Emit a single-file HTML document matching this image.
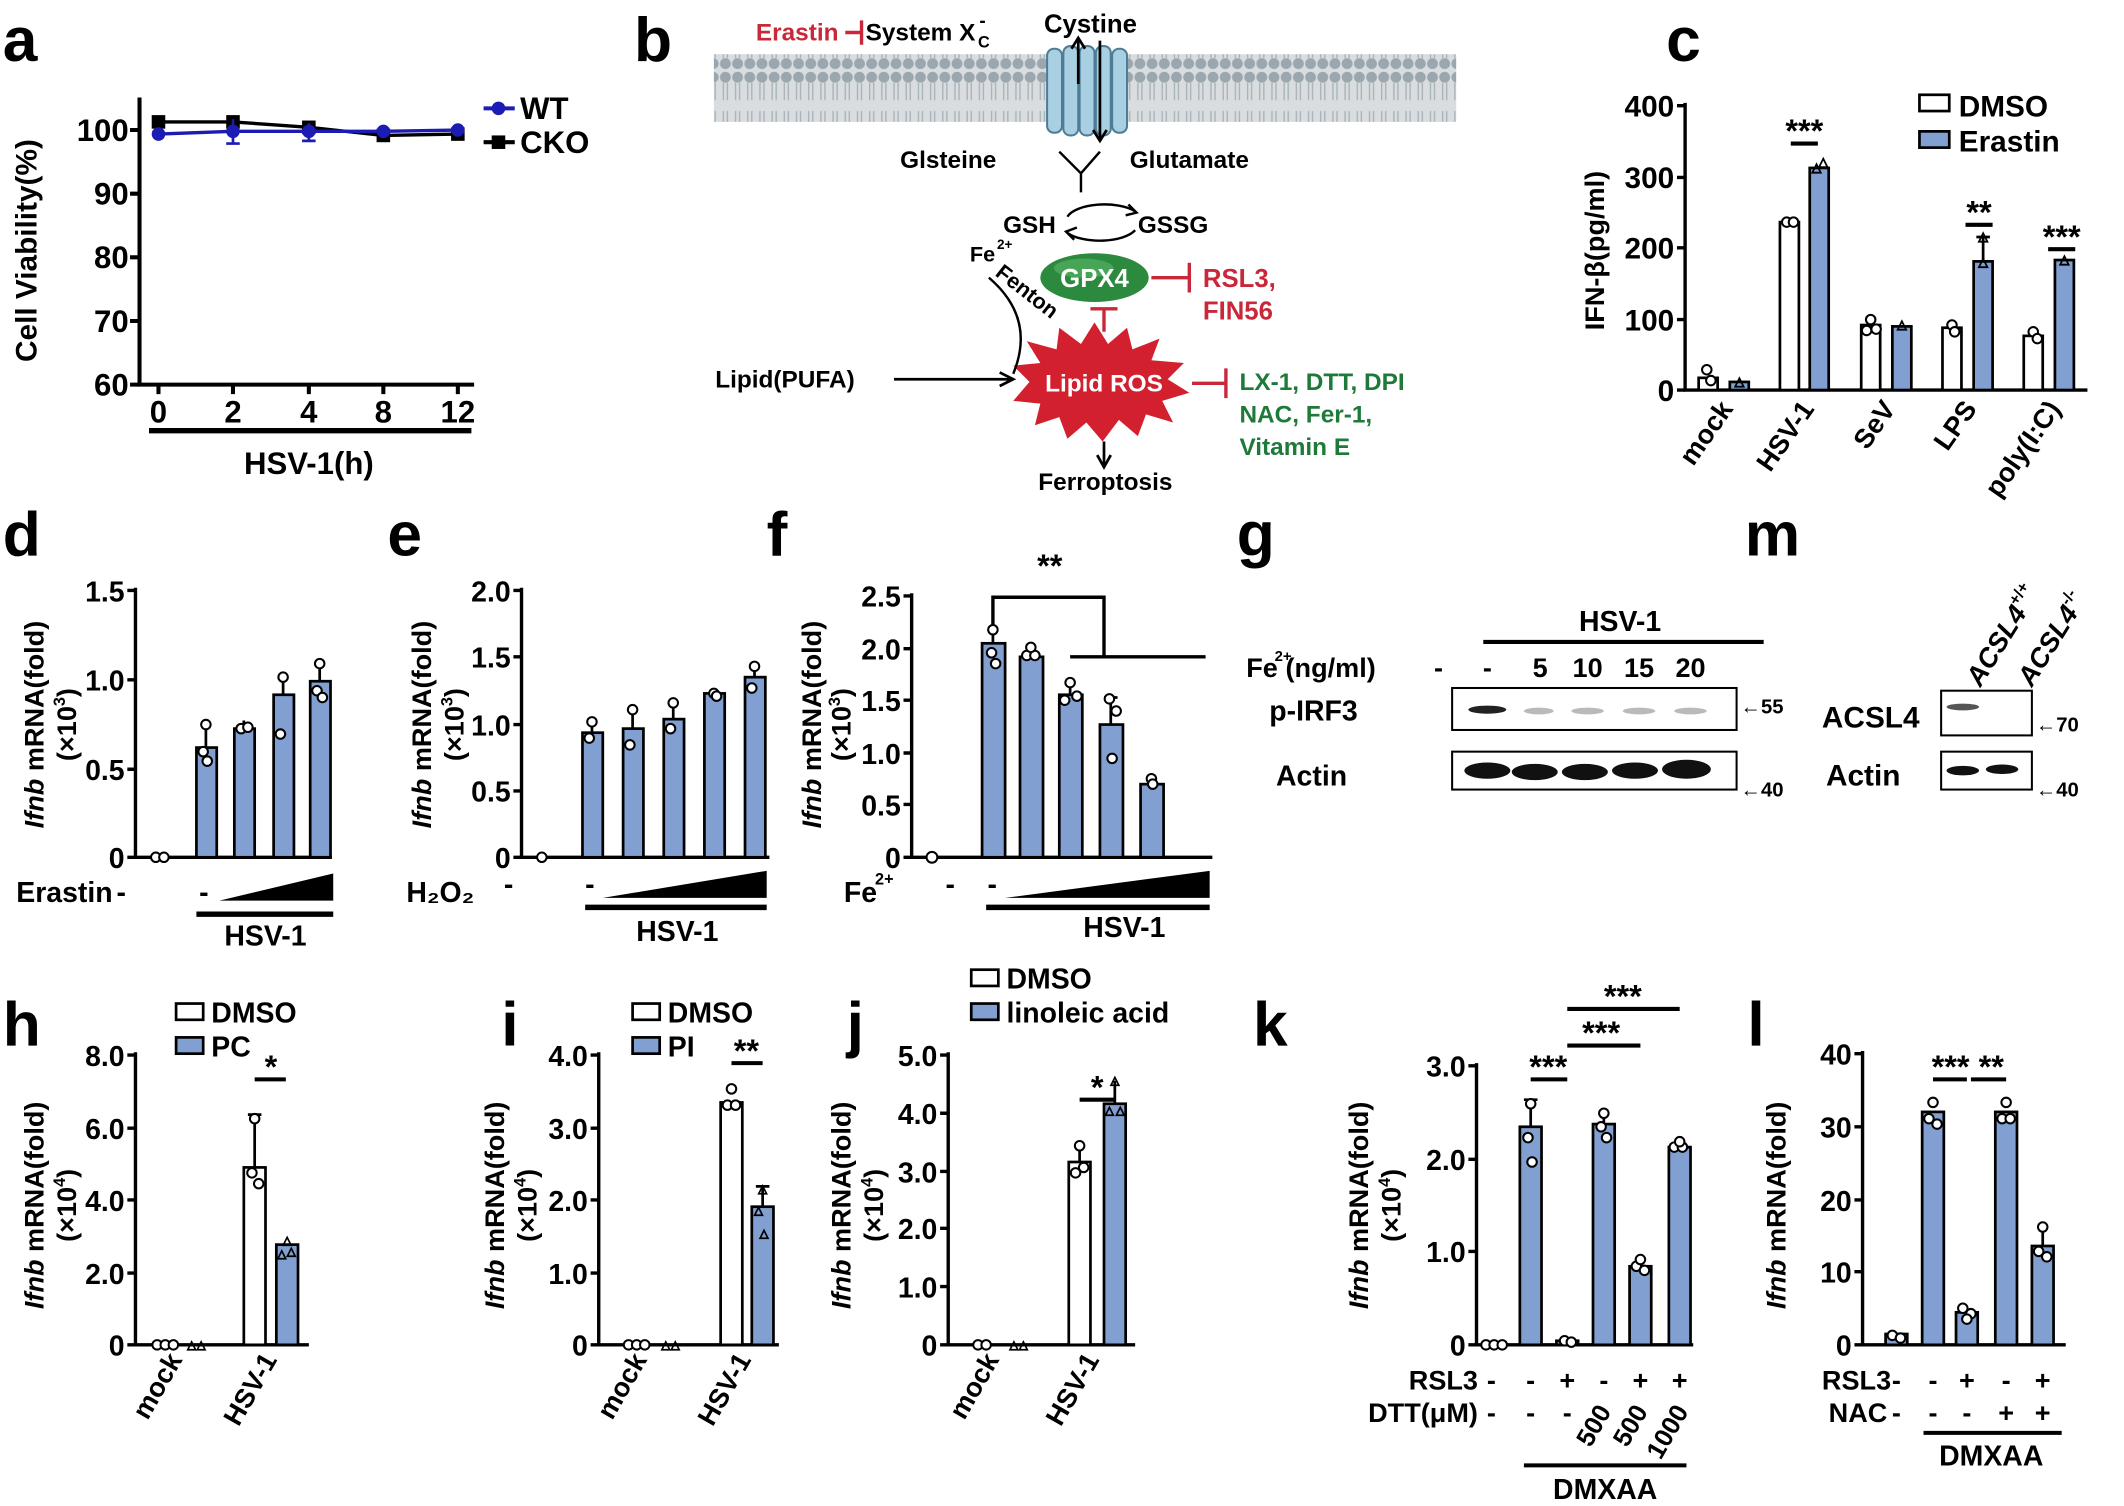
<!DOCTYPE html>
<html><head><meta charset="utf-8"><style>
html,body{margin:0;padding:0;background:#fff}
svg{display:block}
text{font-family:"Liberation Sans",Arial,sans-serif;font-weight:bold}
</style></head><body>
<svg width="2124" height="1506" viewBox="0 0 1568 1112" preserveAspectRatio="none" xmlns="http://www.w3.org/2000/svg">
<defs>
<pattern id="mem" x="0" y="0" width="9" height="52" patternUnits="userSpaceOnUse">
<rect width="9" height="52" fill="#d9dde0"/>
<circle cx="4.5" cy="5" r="4" fill="#9aa7ae"/>
<circle cx="4.5" cy="47" r="4" fill="#9aa7ae"/>
<path d="M3 9 L3 22 M6 9 L6 22 M3 30 L3 43 M6 30 L6 43" stroke="#a9b3b8" stroke-width="1"/>
</pattern>
</defs>

<!-- ===== Panel a ===== -->
<text x="2" y="45" font-size="46">a</text>
<g stroke="#000" stroke-width="3" fill="none">
<path d="M103 72 V284 H350"/>
<path d="M96 96 H103 M96 143 H103 M96 190 H103 M96 237 H103 M96 284 H103"/>
<path d="M117 284 V291 M172 284 V291 M228 284 V291 M283 284 V291 M338 284 V291"/>
<path d="M110 318 H348" stroke-width="4"/>
</g>
<g font-size="23" text-anchor="end">
<text x="95" y="104">100</text><text x="95" y="151">90</text><text x="95" y="198">80</text><text x="95" y="245">70</text><text x="95" y="292">60</text>
</g>
<g font-size="23" text-anchor="middle">
<text x="117" y="312">0</text><text x="172" y="312">2</text><text x="228" y="312">4</text><text x="283" y="312">8</text><text x="338" y="312">12</text>
<text x="228" y="350">HSV-1(h)</text>
</g>
<text transform="translate(27,185) rotate(-90)" font-size="22" text-anchor="middle">Cell Viability(%)</text>
<polyline points="117,90 172,90 228,94 283,100 338,99" fill="none" stroke="#000" stroke-width="2.5"/>
<g fill="#000"><rect x="112" y="85" width="10" height="10"/><rect x="167" y="85" width="10" height="10"/><rect x="223" y="89" width="10" height="10"/><rect x="278" y="95" width="10" height="10"/><rect x="333" y="94" width="10" height="10"/></g>
<polyline points="117,99 172,97 228,97 283,97 338,96" fill="none" stroke="#1c1cb4" stroke-width="2.5"/>
<g stroke="#1c1cb4" stroke-width="2"><path d="M172 88 V106 M167 106 H177 M228 91 V104 M223 104 H233"/></g>
<g fill="#1c1cb4"><circle cx="117" cy="99" r="5"/><circle cx="172" cy="97" r="5"/><circle cx="228" cy="97" r="5"/><circle cx="283" cy="97" r="5"/><circle cx="338" cy="96" r="5"/></g>
<path d="M357 80 H380" stroke="#1c1cb4" stroke-width="3"/><circle cx="368" cy="80" r="5" fill="#1c1cb4"/>
<text x="384" y="88" font-size="23">WT</text>
<path d="M357 105 H380" stroke="#000" stroke-width="3"/><rect x="363" y="100" width="10" height="10"/>
<text x="384" y="113" font-size="23">CKO</text>

<!-- ===== Panel b ===== -->
<text x="468" y="45" font-size="46">b</text>
<rect x="527" y="40" width="548" height="50" fill="url(#mem)"/>
<g fill="#a9cfe3" stroke="#4f7c95" stroke-width="1.5">
<rect x="773" y="36" width="11" height="62" rx="5"/><rect x="785" y="34" width="11" height="66" rx="5"/>
<rect x="797" y="34" width="11" height="66" rx="5"/><rect x="809" y="34" width="11" height="66" rx="5"/><rect x="821" y="36" width="11" height="62" rx="5"/>
</g>
<text x="805" y="24" font-size="19" text-anchor="middle">Cystine</text>
<g stroke="#000" stroke-width="2" fill="none">
<path d="M796 30 V62"/><path d="M791 36 L796 28 L801 36"/>
<path d="M812 30 V102"/><path d="M807 96 L812 104 L817 96"/>
</g>
<text x="558" y="30" font-size="18" fill="#c8283a" font-weight="bold">Erastin</text>
<path d="M624 24 H636 M636 15 V33" stroke="#c8283a" stroke-width="2.5"/>
<text x="639" y="30" font-size="18">System X</text>
<text x="722" y="35" font-size="12">C</text><text x="723" y="20" font-size="14">-</text>
<text x="700" y="124" font-size="18" text-anchor="middle">Glsteine</text>
<text x="878" y="124" font-size="18" text-anchor="middle">Glutamate</text>
<path d="M782 112 L798 128 L812 112 M798 128 V142" stroke="#000" stroke-width="1.8" fill="none"/>
<text x="760" y="172" font-size="18" text-anchor="middle">GSH</text>
<text x="866" y="172" font-size="18" text-anchor="middle">GSSG</text>
<path d="M788 160 A28 12 0 0 1 838 156" stroke="#000" stroke-width="1.8" fill="none"/>
<path d="M838 170 A28 12 0 0 1 788 172" stroke="#000" stroke-width="1.8" fill="none"/>
<path d="M833 151 L839 157 L831 159 M793 177 L787 171 L795 168" stroke="#000" stroke-width="1.8" fill="none"/>
<ellipse cx="808" cy="205" rx="40" ry="18" fill="#2b8a3e"/>
<ellipse cx="800" cy="198" rx="22" ry="7" fill="#5cb86b" opacity="0.6"/>
<text x="808" y="212" font-size="19" fill="#fff" text-anchor="middle">GPX4</text>
<path d="M850 205 H878 M878 194 V216" stroke="#c8283a" stroke-width="2.5"/>
<text x="888" y="212" font-size="19" fill="#c8283a">RSL3,</text>
<text x="888" y="236" font-size="19" fill="#c8283a">FIN56</text>
<path d="M815 245 V228 M805 228 H825" stroke="#c8283a" stroke-width="2.5"/>
<polygon fill="#d2202f" points="760,282 748,270 768,268 758,252 780,258 782,242 798,254 808,238 818,254 832,242 836,258 856,250 850,266 874,268 862,280 878,290 858,296 866,312 846,306 840,322 826,310 814,326 802,312 788,324 782,308 764,314 768,298 748,296"/>
<text x="815" y="289" font-size="18" fill="#fff" text-anchor="middle">Lipid ROS</text>
<text x="716" y="193" font-size="16">Fe</text><text x="736" y="184" font-size="10">2+</text>
<text transform="translate(734,203) rotate(38)" font-size="16">Fenton</text>
<path d="M730 205 Q765 235 748 276" stroke="#000" stroke-width="1.8" fill="none"/>
<text x="528" y="286" font-size="18">Lipid(PUFA)</text>
<path d="M660 280 H746 M738 275 L748 280 L738 285" stroke="#000" stroke-width="2" fill="none"/>
<path d="M880 283 H905 M905 272 V294" stroke="#c8283a" stroke-width="2.5"/>
<g fill="#1f7a3a" font-size="18">
<text x="915" y="288">LX-1, DTT, DPI</text><text x="915" y="312">NAC, Fer-1,</text><text x="915" y="336">Vitamin E</text>
</g>
<path d="M815 326 V343 M810 336 L815 345 L820 336" stroke="#000" stroke-width="2" fill="none"/>
<text x="816" y="362" font-size="18" text-anchor="middle">Ferroptosis</text>

<!-- ===== Panel c ===== -->
<text x="1230" y="45" font-size="46">c</text>
<g stroke="#000" stroke-width="2.5" fill="none">
<path d="M1244 76 V288 H1541"/>
<path d="M1238 78 H1244 M1238 131 H1244 M1238 183 H1244 M1238 236 H1244 M1238 288 H1244"/>
</g>
<g font-size="22" text-anchor="end">
<text x="1236" y="86">400</text><text x="1236" y="139">300</text><text x="1236" y="191">200</text><text x="1236" y="244">100</text><text x="1236" y="296">0</text>
</g>
<text transform="translate(1184,185) rotate(-90)" font-size="20" text-anchor="middle">IFN-β(pg/ml)</text>
<g stroke="#000" stroke-width="2">
<rect x="1254" y="279" width="14" height="9" fill="#fff"/><rect x="1277" y="282" width="14" height="6" fill="#819fd0"/>
<rect x="1314" y="164" width="14" height="124" fill="#fff"/><rect x="1336" y="124" width="14" height="164" fill="#819fd0"/>
<rect x="1374" y="240" width="14" height="48" fill="#fff"/><rect x="1397" y="241" width="14" height="47" fill="#819fd0"/>
<rect x="1434" y="242" width="14" height="46" fill="#fff"/><rect x="1457" y="193" width="14" height="95" fill="#819fd0"/>
<rect x="1494" y="248" width="14" height="40" fill="#fff"/><rect x="1517" y="192" width="14" height="96" fill="#819fd0"/>
<path d="M1464 193 V175 M1459 175 H1469"/>
</g>
<g fill="#fff" stroke="#000" stroke-width="1.5">
<circle cx="1260" cy="273" r="3.5"/><circle cx="1263" cy="281" r="3.5"/><circle cx="1319" cy="164" r="3.5"/><circle cx="1324" cy="164" r="3.5"/>
<circle cx="1381" cy="236" r="3.5"/><circle cx="1378" cy="244" r="3.5"/><circle cx="1385" cy="243" r="3.5"/>
<circle cx="1441" cy="240" r="3.5"/><circle cx="1443" cy="245" r="3.5"/><circle cx="1501" cy="245" r="3.5"/><circle cx="1504" cy="250" r="3.5"/>
</g>
<g font-size="15" text-anchor="middle" font-weight="normal"><text x="1284" y="286">▵</text><text x="1341" y="128">▵</text><text x="1346" y="124">▵</text><text x="1404" y="244">▵</text><text x="1464" y="198">▵</text><text x="1464" y="179">▵</text><text x="1524" y="196">▵</text></g>
<g stroke="#000" stroke-width="3"><path d="M1322 106 H1342 M1451 166 H1471 M1512 184 H1532"/></g>
<g font-size="24" font-weight="normal" text-anchor="middle"><text x="1332" y="105">***</text><text x="1461" y="165">**</text><text x="1522" y="183">***</text></g>
<rect x="1417" y="70" width="22" height="12" fill="#fff" stroke="#000" stroke-width="2"/>
<text x="1446" y="86" font-size="22">DMSO</text>
<rect x="1417" y="97" width="22" height="12" fill="#819fd0" stroke="#000" stroke-width="2"/>
<text x="1446" y="112" font-size="22">Erastin</text>
<g font-size="20" text-anchor="end">
<text transform="translate(1280,302) rotate(-55)">mock</text>
<text transform="translate(1340,302) rotate(-55)">HSV-1</text>
<text transform="translate(1400,302) rotate(-55)">SeV</text>
<text transform="translate(1460,302) rotate(-55)">LPS</text>
<text transform="translate(1522,302) rotate(-55)">poly(I:C)</text>
</g>

<!-- ===== Panel d ===== -->
<text x="2" y="410" font-size="46">d</text>
<g stroke="#000" stroke-width="2.5" fill="none"><path d="M100 434 V633 H245"/><path d="M94 436 H100 M94 502 H100 M94 568 H100 M94 633 H100"/></g>
<g font-size="21" text-anchor="end"><text x="92" y="444">1.5</text><text x="92" y="510">1.0</text><text x="92" y="576">0.5</text><text x="92" y="641">0</text></g>
<text transform="translate(32,535) rotate(-90)" font-size="20" text-anchor="middle"><tspan font-style="italic">Ifnb</tspan> mRNA(fold)</text>
<text transform="translate(56,535) rotate(-90)" font-size="20" text-anchor="middle">(×10<tspan font-size="12" dy="-8">3</tspan><tspan dy="8">)</tspan></text>
<g stroke="#000" stroke-width="2" fill="#819fd0">
<rect x="145" y="552" width="15" height="81"/><rect x="173" y="538" width="15" height="95"/><rect x="202" y="513" width="15" height="120"/><rect x="229" y="503" width="15" height="130"/>
<path d="M152 552 V535 M180 538 V532 M209 513 V498 M236 503 V488" fill="none"/>
</g>
<g fill="#fff" stroke="#000" stroke-width="1.5"><circle cx="115" cy="633" r="3.5"/><circle cx="121" cy="633" r="3.5"/>
<circle cx="152" cy="535" r="3.5"/><circle cx="150" cy="555" r="3.5"/><circle cx="153" cy="562" r="3.5"/><circle cx="178" cy="538" r="3.5"/><circle cx="183" cy="537" r="3.5"/>
<circle cx="209" cy="500" r="3.5"/><circle cx="207" cy="542" r="3.5"/><circle cx="236" cy="490" r="3.5"/><circle cx="234" cy="510" r="3.5"/><circle cx="238" cy="515" r="3.5"/></g>
<text x="12" y="666" font-size="21">Erastin</text><text x="86" y="666" font-size="21">-</text><text x="147" y="666" font-size="21">-</text>
<polygon points="162,665 246,645 246,665"/>
<path d="M145 675 H246" stroke="#000" stroke-width="4"/>
<text x="196" y="698" font-size="21" text-anchor="middle">HSV-1</text>

<!-- ===== Panel e ===== -->
<text x="286" y="410" font-size="46">e</text>
<g stroke="#000" stroke-width="2.5" fill="none"><path d="M385 434 V633 H568"/><path d="M379 436 H385 M379 485 H385 M379 535 H385 M379 584 H385 M379 633 H385"/></g>
<g font-size="21" text-anchor="end"><text x="377" y="444">2.0</text><text x="377" y="493">1.5</text><text x="377" y="543">1.0</text><text x="377" y="592">0.5</text><text x="377" y="641">0</text></g>
<text transform="translate(318,535) rotate(-90)" font-size="20" text-anchor="middle"><tspan font-style="italic">Ifnb</tspan> mRNA(fold)</text>
<text transform="translate(342,535) rotate(-90)" font-size="20" text-anchor="middle">(×10<tspan font-size="12" dy="-8">3</tspan><tspan dy="8">)</tspan></text>
<g stroke="#000" stroke-width="2" fill="#819fd0">
<rect x="430" y="541" width="15" height="92"/><rect x="460" y="538" width="15" height="95"/><rect x="490" y="531" width="15" height="102"/><rect x="520" y="512" width="15" height="121"/><rect x="550" y="500" width="15" height="133"/>
<path d="M437 541 V532 M467 538 V523 M497 531 V520 M557 500 V490" fill="none"/>
</g>
<g fill="#fff" stroke="#000" stroke-width="1.5"><circle cx="400" cy="633" r="3.5"/>
<circle cx="437" cy="533" r="3.5"/><circle cx="435" cy="545" r="3.5"/><circle cx="467" cy="524" r="3.5"/><circle cx="465" cy="550" r="3.5"/>
<circle cx="497" cy="519" r="3.5"/><circle cx="495" cy="538" r="3.5"/><circle cx="527" cy="512" r="3.5"/><circle cx="529" cy="514" r="3.5"/>
<circle cx="557" cy="492" r="3.5"/><circle cx="555" cy="508" r="3.5"/></g>
<text x="300" y="666" font-size="21">H₂O₂</text><text x="372" y="660" font-size="21">-</text><text x="432" y="660" font-size="21">-</text>
<polygon points="445,663 566,643 566,663"/>
<path d="M432 670 H566" stroke="#000" stroke-width="4"/>
<text x="500" y="695" font-size="21" text-anchor="middle">HSV-1</text>

<!-- ===== Panel f ===== -->
<text x="566" y="410" font-size="46">f</text>
<g stroke="#000" stroke-width="2.5" fill="none"><path d="M673 438 V633 H895"/><path d="M667 440 H673 M667 479 H673 M667 517 H673 M667 556 H673 M667 594 H673 M667 633 H673"/></g>
<g font-size="21" text-anchor="end"><text x="665" y="448">2.5</text><text x="665" y="487">2.0</text><text x="665" y="525">1.5</text><text x="665" y="564">1.0</text><text x="665" y="602">0.5</text><text x="665" y="641">0</text></g>
<text transform="translate(606,535) rotate(-90)" font-size="20" text-anchor="middle"><tspan font-style="italic">Ifnb</tspan> mRNA(fold)</text>
<text transform="translate(628,535) rotate(-90)" font-size="20" text-anchor="middle">(×10<tspan font-size="12" dy="-8">3</tspan><tspan dy="8">)</tspan></text>
<g stroke="#000" stroke-width="2" fill="#819fd0">
<rect x="725" y="475" width="17" height="158"/><rect x="753" y="485" width="17" height="148"/><rect x="782" y="513" width="17" height="120"/><rect x="812" y="535" width="17" height="98"/><rect x="842" y="579" width="17" height="54"/>
<path d="M733 475 V465 M790 513 V503 M820 535 V515 M815 515 H825" fill="none"/>
</g>
<g fill="#fff" stroke="#000" stroke-width="1.5"><circle cx="688" cy="633" r="4"/>
<circle cx="733" cy="465" r="3.5"/><circle cx="732" cy="482" r="3.5"/><circle cx="735" cy="490" r="3.5"/><circle cx="758" cy="484" r="3.5"/><circle cx="764" cy="484" r="3.5"/><circle cx="761" cy="478" r="3.5"/>
<circle cx="790" cy="504" r="3.5"/><circle cx="786" cy="517" r="3.5"/><circle cx="795" cy="514" r="3.5"/><circle cx="819" cy="516" r="3.5"/><circle cx="824" cy="525" r="3.5"/><circle cx="821" cy="560" r="3.5"/>
<circle cx="850" cy="575" r="3.5"/><circle cx="851" cy="579" r="3.5"/></g>
<path d="M733 462 V441 H815 V485 M790 485 H890" stroke="#000" stroke-width="2.5" fill="none"/>
<text x="775" y="426" font-size="24" font-weight="normal" text-anchor="middle">**</text>
<text x="623" y="666" font-size="21">Fe</text><text x="646" y="653" font-size="12">2+</text>
<text x="698" y="660" font-size="21">-</text><text x="729" y="660" font-size="21">-</text>
<polygon points="742,663 893,643 893,663"/>
<path d="M728 670 H893" stroke="#000" stroke-width="4"/>
<text x="830" y="692" font-size="21" text-anchor="middle">HSV-1</text>

<!-- ===== Panel g ===== -->
<text x="913" y="410" font-size="46">g</text>
<text x="1196" y="466" font-size="21" text-anchor="middle">HSV-1</text>
<path d="M1095 474 H1302" stroke="#000" stroke-width="3"/>
<text x="920" y="500" font-size="20">Fe</text><text x="941" y="488" font-size="11">2+</text><text x="949" y="500" font-size="20">(ng/ml)</text>
<g font-size="20" text-anchor="middle"><text x="1062" y="500">-</text><text x="1098" y="500">-</text><text x="1137" y="500">5</text><text x="1172" y="500">10</text><text x="1210" y="500">15</text><text x="1248" y="500">20</text></g>
<rect x="1072" y="508" width="210" height="31" fill="#fff" stroke="#000" stroke-width="1.5"/>
<g fill="#222"><ellipse cx="1098" cy="524" rx="14" ry="3"/></g>
<g fill="#aaa" opacity="0.8"><ellipse cx="1136" cy="525" rx="11" ry="2.5"/><ellipse cx="1172" cy="525" rx="12" ry="2.5"/><ellipse cx="1210" cy="525" rx="12" ry="2.5"/><ellipse cx="1248" cy="525" rx="12" ry="2.5"/></g>
<rect x="1072" y="555" width="210" height="28" fill="#fff" stroke="#000" stroke-width="1.5"/>
<g fill="#111"><ellipse cx="1098" cy="569" rx="17" ry="6"/><ellipse cx="1133" cy="570" rx="17" ry="6"/><ellipse cx="1170" cy="570" rx="17" ry="6"/><ellipse cx="1207" cy="569" rx="17" ry="6"/><ellipse cx="1245" cy="568" rx="18" ry="7"/></g>
<text x="937" y="532" font-size="21">p-IRF3</text>
<text x="942" y="580" font-size="21">Actin</text>
<text x="1285" y="527" font-size="15">←55</text>
<text x="1285" y="588" font-size="15">←40</text>

<!-- ===== Panel m ===== -->
<text x="1288" y="410" font-size="46">m</text>
<text transform="translate(1462,508) rotate(-58)" font-size="20" font-style="italic">ACSL4<tspan font-size="12" dy="-9" font-style="normal">+/+</tspan></text>
<text transform="translate(1500,508) rotate(-58)" font-size="20" font-style="italic">ACSL4<tspan font-size="12" dy="-9" font-style="normal">-/-</tspan></text>
<rect x="1433" y="510" width="67" height="33" fill="#fff" stroke="#000" stroke-width="1.5"/>
<ellipse cx="1449" cy="522" rx="12" ry="2.5" fill="#555"/>
<rect x="1433" y="555" width="67" height="28" fill="#fff" stroke="#000" stroke-width="1.5"/>
<ellipse cx="1449" cy="569" rx="12" ry="3.5" fill="#111"/><ellipse cx="1478" cy="568" rx="12" ry="3.5" fill="#111"/>
<text x="1345" y="537" font-size="22">ACSL4</text>
<text x="1348" y="580" font-size="22">Actin</text>
<text x="1503" y="540" font-size="15">←70</text>
<text x="1503" y="588" font-size="15">←40</text>

<!-- ===== Panel h ===== -->
<text x="2" y="772" font-size="46">h</text>
<g stroke="#000" stroke-width="2.5" fill="none"><path d="M100 777 V993 H228"/><path d="M94 779 H100 M94 833 H100 M94 886 H100 M94 940 H100 M94 993 H100"/></g>
<g font-size="21" text-anchor="end"><text x="92" y="787">8.0</text><text x="92" y="841">6.0</text><text x="92" y="894">4.0</text><text x="92" y="948">2.0</text><text x="92" y="1001">0</text></g>
<text transform="translate(32,890) rotate(-90)" font-size="20" text-anchor="middle"><tspan font-style="italic">Ifnb</tspan> mRNA(fold)</text>
<text transform="translate(56,890) rotate(-90)" font-size="20" text-anchor="middle">(×10<tspan font-size="12" dy="-8">4</tspan><tspan dy="8">)</tspan></text>
<rect x="130" y="741" width="20" height="12" fill="#fff" stroke="#000" stroke-width="2"/><text x="156" y="755" font-size="21">DMSO</text>
<rect x="130" y="766" width="20" height="12" fill="#819fd0" stroke="#000" stroke-width="2"/><text x="156" y="780" font-size="21">PC</text>
<g stroke="#000" stroke-width="2"><rect x="180" y="862" width="16" height="131" fill="#fff"/><rect x="204" y="919" width="16" height="74" fill="#819fd0"/><path d="M188 862 V823 M183 823 H193"/></g>
<g fill="#fff" stroke="#000" stroke-width="1.5"><circle cx="116" cy="993" r="3.5"/><circle cx="122" cy="993" r="3.5"/><circle cx="128" cy="993" r="3.5"/><circle cx="188" cy="826" r="3.5"/><circle cx="186" cy="866" r="3.5"/><circle cx="191" cy="874" r="3.5"/></g>
<g font-size="14" text-anchor="middle" font-weight="normal"><text x="145" y="997">▵▵</text><text x="212" y="920">▵</text><text x="208" y="930">▵</text><text x="215" y="928">▵</text></g>
<path d="M188 797 H211" stroke="#000" stroke-width="3"/><text x="200" y="796" font-size="24" font-weight="normal" text-anchor="middle">*</text>
<g font-size="20" text-anchor="end"><text transform="translate(135,1004) rotate(-60)">mock</text><text transform="translate(205,1004) rotate(-60)">HSV-1</text></g>

<!-- ===== Panel i ===== -->
<text x="370" y="772" font-size="46">i</text>
<g stroke="#000" stroke-width="2.5" fill="none"><path d="M442 777 V993 H575"/><path d="M436 779 H442 M436 833 H442 M436 886 H442 M436 940 H442 M436 993 H442"/></g>
<g font-size="21" text-anchor="end"><text x="434" y="787">4.0</text><text x="434" y="841">3.0</text><text x="434" y="894">2.0</text><text x="434" y="948">1.0</text><text x="434" y="1001">0</text></g>
<text transform="translate(372,890) rotate(-90)" font-size="20" text-anchor="middle"><tspan font-style="italic">Ifnb</tspan> mRNA(fold)</text>
<text transform="translate(396,890) rotate(-90)" font-size="20" text-anchor="middle">(×10<tspan font-size="12" dy="-8">4</tspan><tspan dy="8">)</tspan></text>
<rect x="467" y="741" width="20" height="12" fill="#fff" stroke="#000" stroke-width="2"/><text x="493" y="755" font-size="21">DMSO</text>
<rect x="467" y="766" width="20" height="12" fill="#819fd0" stroke="#000" stroke-width="2"/><text x="493" y="780" font-size="21">PI</text>
<g stroke="#000" stroke-width="2"><rect x="532" y="814" width="16" height="179" fill="#fff"/><rect x="555" y="891" width="16" height="102" fill="#819fd0"/><path d="M563 891 V876 M558 876 H568"/></g>
<g fill="#fff" stroke="#000" stroke-width="1.5"><circle cx="464" cy="993" r="3.5"/><circle cx="470" cy="993" r="3.5"/><circle cx="476" cy="993" r="3.5"/><circle cx="540" cy="804" r="3.5"/><circle cx="537" cy="816" r="3.5"/><circle cx="543" cy="816" r="3.5"/></g>
<g font-size="14" text-anchor="middle" font-weight="normal"><text x="495" y="997">▵▵</text><text x="563" y="882">▵</text><text x="560" y="898">▵</text><text x="564" y="915">▵</text></g>
<path d="M540 785 H563" stroke="#000" stroke-width="3"/><text x="551" y="784" font-size="24" font-weight="normal" text-anchor="middle">**</text>
<g font-size="20" text-anchor="end"><text transform="translate(478,1004) rotate(-60)">mock</text><text transform="translate(555,1004) rotate(-60)">HSV-1</text></g>

<!-- ===== Panel j ===== -->
<text x="625" y="772" font-size="46">j</text>
<g stroke="#000" stroke-width="2.5" fill="none"><path d="M700 777 V993 H838"/><path d="M694 779 H700 M694 822 H700 M694 865 H700 M694 907 H700 M694 950 H700 M694 993 H700"/></g>
<g font-size="21" text-anchor="end"><text x="692" y="787">5.0</text><text x="692" y="830">4.0</text><text x="692" y="873">3.0</text><text x="692" y="915">2.0</text><text x="692" y="958">1.0</text><text x="692" y="1001">0</text></g>
<text transform="translate(628,890) rotate(-90)" font-size="20" text-anchor="middle"><tspan font-style="italic">Ifnb</tspan> mRNA(fold)</text>
<text transform="translate(652,890) rotate(-90)" font-size="20" text-anchor="middle">(×10<tspan font-size="12" dy="-8">4</tspan><tspan dy="8">)</tspan></text>
<rect x="717" y="716" width="20" height="12" fill="#fff" stroke="#000" stroke-width="2"/><text x="743" y="730" font-size="21">DMSO</text>
<rect x="717" y="741" width="20" height="12" fill="#819fd0" stroke="#000" stroke-width="2"/><text x="743" y="755" font-size="21">linoleic acid</text>
<g stroke="#000" stroke-width="2"><rect x="789" y="858" width="16" height="135" fill="#fff"/><rect x="815" y="815" width="16" height="178" fill="#819fd0"/><path d="M797 858 V845 M823 815 V798"/></g>
<g fill="#fff" stroke="#000" stroke-width="1.5"><circle cx="722" cy="993" r="3.5"/><circle cx="728" cy="993" r="3.5"/><circle cx="797" cy="846" r="3.5"/><circle cx="794" cy="866" r="3.5"/><circle cx="800" cy="862" r="3.5"/></g>
<g font-size="14" text-anchor="middle" font-weight="normal"><text x="752" y="997">▵▵</text><text x="823" y="802">▵</text><text x="819" y="824">▵</text><text x="827" y="824">▵</text></g>
<path d="M797 812 H823" stroke="#000" stroke-width="3"/><text x="810" y="811" font-size="24" font-weight="normal" text-anchor="middle">*</text>
<g font-size="20" text-anchor="end"><text transform="translate(738,1004) rotate(-60)">mock</text><text transform="translate(812,1004) rotate(-60)">HSV-1</text></g>

<!-- ===== Panel k ===== -->
<text x="925" y="772" font-size="46">k</text>
<g stroke="#000" stroke-width="2.5" fill="none"><path d="M1090 785 V993 H1250"/><path d="M1084 787 H1090 M1084 856 H1090 M1084 924 H1090 M1084 993 H1090"/></g>
<g font-size="21" text-anchor="end"><text x="1082" y="795">3.0</text><text x="1082" y="864">2.0</text><text x="1082" y="932">1.0</text><text x="1082" y="1001">0</text></g>
<text transform="translate(1010,890) rotate(-90)" font-size="20" text-anchor="middle"><tspan font-style="italic">Ifnb</tspan> mRNA(fold)</text>
<text transform="translate(1034,890) rotate(-90)" font-size="20" text-anchor="middle">(×10<tspan font-size="12" dy="-8">4</tspan><tspan dy="8">)</tspan></text>
<g stroke="#000" stroke-width="2" fill="#819fd0">
<rect x="1122" y="832" width="16" height="161"/><rect x="1149" y="990" width="16" height="3"/><rect x="1176" y="830" width="16" height="163"/><rect x="1203" y="935" width="16" height="58"/><rect x="1232" y="847" width="16" height="146"/>
<path d="M1130 832 V812 M1125 812 H1135 M1184 830 V820" fill="none"/>
</g>
<g fill="#fff" stroke="#000" stroke-width="1.5"><circle cx="1097" cy="993" r="3.5"/><circle cx="1103" cy="993" r="3.5"/><circle cx="1109" cy="993" r="3.5"/>
<circle cx="1130" cy="815" r="3.5"/><circle cx="1128" cy="840" r="3.5"/><circle cx="1131" cy="858" r="3.5"/><circle cx="1155" cy="990" r="3.5"/><circle cx="1160" cy="991" r="3.5"/>
<circle cx="1184" cy="822" r="3.5"/><circle cx="1182" cy="832" r="3.5"/><circle cx="1186" cy="840" r="3.5"/>
<circle cx="1208" cy="935" r="3.5"/><circle cx="1214" cy="938" r="3.5"/><circle cx="1211" cy="930" r="3.5"/>
<circle cx="1236" cy="847" r="3.5"/><circle cx="1242" cy="847" r="3.5"/><circle cx="1240" cy="843" r="3.5"/></g>
<g stroke="#000" stroke-width="3"><path d="M1130 797 H1157 M1157 772 H1211 M1157 745 H1240"/></g>
<g font-size="24" font-weight="normal" text-anchor="middle"><text x="1143" y="796">***</text><text x="1182" y="771">***</text><text x="1198" y="744">***</text></g>
<text x="1040" y="1026" font-size="20">RSL3</text>
<g font-size="20" text-anchor="middle"><text x="1101" y="1026">-</text><text x="1130" y="1026">-</text><text x="1157" y="1026">+</text><text x="1184" y="1026">-</text><text x="1211" y="1026">+</text><text x="1240" y="1026">+</text>
<text x="1101" y="1050">-</text><text x="1130" y="1050">-</text><text x="1157" y="1050">-</text></g>
<text x="1010" y="1050" font-size="20">DTT(μM)</text>
<g font-size="19" text-anchor="end"><text transform="translate(1190,1042) rotate(-60)">500</text><text transform="translate(1217,1042) rotate(-60)">500</text><text transform="translate(1247,1042) rotate(-60)">1000</text></g>
<path d="M1125 1082 H1245" stroke="#000" stroke-width="3"/>
<text x="1185" y="1107" font-size="21" text-anchor="middle">DMXAA</text>

<!-- ===== Panel l ===== -->
<text x="1290" y="772" font-size="46">l</text>
<g stroke="#000" stroke-width="2.5" fill="none"><path d="M1375 776 V993 H1525"/><path d="M1369 778 H1375 M1369 832 H1375 M1369 886 H1375 M1369 939 H1375 M1369 993 H1375"/></g>
<g font-size="21" text-anchor="end"><text x="1367" y="786">40</text><text x="1367" y="840">30</text><text x="1367" y="894">20</text><text x="1367" y="947">10</text><text x="1367" y="1001">0</text></g>
<text transform="translate(1318,890) rotate(-90)" font-size="20" text-anchor="middle"><tspan font-style="italic">Ifnb</tspan> mRNA(fold)</text>
<g stroke="#000" stroke-width="2" fill="#819fd0">
<rect x="1392" y="985" width="16" height="8"/><rect x="1419" y="821" width="16" height="172"/><rect x="1444" y="969" width="16" height="24"/><rect x="1473" y="821" width="16" height="172"/><rect x="1500" y="920" width="16" height="73"/>
<path d="M1508 920 V905" fill="none"/>
</g>
<g fill="#fff" stroke="#000" stroke-width="1.5"><circle cx="1397" cy="986" r="3.5"/><circle cx="1403" cy="988" r="3.5"/>
<circle cx="1427" cy="814" r="3.5"/><circle cx="1424" cy="826" r="3.5"/><circle cx="1430" cy="830" r="3.5"/>
<circle cx="1449" cy="966" r="3.5"/><circle cx="1455" cy="970" r="3.5"/><circle cx="1452" cy="974" r="3.5"/>
<circle cx="1481" cy="814" r="3.5"/><circle cx="1478" cy="826" r="3.5"/><circle cx="1484" cy="826" r="3.5"/>
<circle cx="1508" cy="906" r="3.5"/><circle cx="1505" cy="924" r="3.5"/><circle cx="1511" cy="928" r="3.5"/></g>
<g stroke="#000" stroke-width="3"><path d="M1427 797 H1452 M1455 797 H1481"/></g>
<g font-size="24" font-weight="normal" text-anchor="middle"><text x="1440" y="796">***</text><text x="1470" y="796">**</text></g>
<text x="1345" y="1026" font-size="20">RSL3</text><text x="1350" y="1050" font-size="20">NAC</text>
<g font-size="20" text-anchor="middle"><text x="1400" y="1026">-</text><text x="1427" y="1026">-</text><text x="1452" y="1026">+</text><text x="1481" y="1026">-</text><text x="1508" y="1026">+</text>
<text x="1400" y="1050">-</text><text x="1427" y="1050">-</text><text x="1452" y="1050">-</text><text x="1481" y="1050">+</text><text x="1508" y="1050">+</text></g>
<path d="M1420 1058 H1522" stroke="#000" stroke-width="3"/>
<text x="1470" y="1082" font-size="21" text-anchor="middle">DMXAA</text>
</svg>
</body></html>
